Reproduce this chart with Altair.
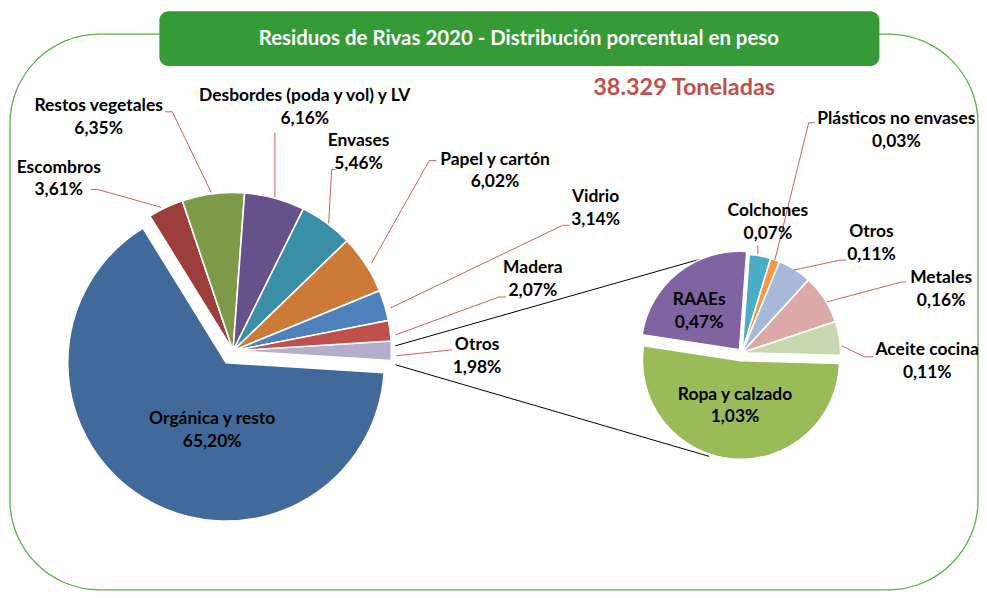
import math
import altair as alt
import pandas as pd

# ---------------- data ----------------
main_names = ["Otros", "Orgánica y resto", "Escombros", "Restos vegetales",
              "Desbordes (poda y vol) y LV", "Envases", "Papel y cartón", "Vidrio", "Madera"]
main_values = [1.98, 65.20, 3.61, 6.35, 6.16, 5.46, 6.02, 3.14, 2.07]
main_colors = ["#B4ADCB", "#416A9B", "#9C3F3C", "#7E9A48", "#66518A",
               "#3A8EA6", "#CC7A37", "#4F81BD", "#C0504D"]

sec_names = ["Ropa y calzado", "RAAEs", "Colchones", "Plásticos no envases",
             "Otros", "Metales", "Aceite cocina"]
sec_values = [1.03, 0.47, 0.07, 0.03, 0.11, 0.16, 0.11]
sec_colors = ["#9BBB59", "#8064A2", "#4BACC6", "#F79646", "#A9B9DA", "#DBA9A7", "#C8D8AE"]

title_text = "Residuos de Rivas 2020 - Distribución porcentual en peso"
total_text = "38.329 Toneladas"

# ---------------- layout (page pixel coords) ----------------
M = 8
FONT = "Lato"
MAIN_C, MAIN_R, MAIN_START = (234, 351), 159, 86.44
SEC_C, SEC_R, SEC_START = (745, 353), 99, 91.5

main_label_pos = {
    "Otros": (479, 345), "Orgánica y resto": (213, 420), "Escombros": (59, 167),
    "Restos vegetales": (99, 105), "Desbordes (poda y vol) y LV": (306, 95),
    "Envases": (360, 140), "Papel y cartón": (497, 159), "Vidrio": (598, 197),
    "Madera": (535, 268),
}
sec_label_pos = {
    "Ropa y calzado": (738, 395), "RAAEs": (702, 300), "Colchones": (771, 211),
    "Plásticos no envases": (900, 118), "Otros": (875, 232), "Metales": (945, 278),
    "Aceite cocina": (931, 350),
}
LINE_GAP = 23

leaders = [
    [(91, 189), (98, 189), (162, 207)],
    [(166, 111), (173, 111), (212, 192)],
    [(276, 132), (276, 197)],
    [(337, 169), (333, 169), (330, 223)],
    [(438, 160), (431, 160), (373, 263)],
    [(572, 225), (565, 225), (392, 308)],
    [(508, 297), (501, 297), (397, 335)],
    [(454, 350), (398, 356)],
    [(761, 245), (761, 254)],
    [(818, 122), (812, 122), (778, 260)],
    [(850, 260), (843, 260), (797, 270)],
    [(910, 282), (905, 282), (830, 302)],
    [(877, 357), (868, 357), (845, 346)],
]
connectors = [[(397, 346), (710, 257)], [(397, 365), (712, 457)]]


def pct(v):
    return f"{v:.2f}".replace(".", ",") + "%"


def segs(polys):
    rows = []
    for p in polys:
        for (a, b) in zip(p[:-1], p[1:]):
            rows.append({"x1": a[0] - M, "y1": a[1] - M, "x2": b[0] - M, "y2": b[1] - M})
    return pd.DataFrame(rows)


main_df = pd.DataFrame({"name": main_names, "value": main_values, "order": range(len(main_names))})
sec_df = pd.DataFrame({"name": sec_names, "value": sec_values, "order": range(len(sec_names))})


def pie_layer(df, names, colors, start_deg, center, r, keep, dx=0.0, dy=0.0):
    total = float(sum(df["value"]))
    s = math.radians(start_deg)
    return alt.Chart(df).transform_window(
        cum="sum(value)", sort=[alt.SortField("order")], frame=[None, 0]
    ).transform_calculate(
        cum0="datum.cum - datum.value"
    ).transform_filter(
        alt.FieldOneOfPredicate(field="name", oneOf=keep)
    ).mark_arc(outerRadius=r, stroke="white", strokeWidth=1.6).encode(
        theta=alt.Theta("cum0:Q", stack=False,
                        scale=alt.Scale(domain=[0, total], range=[s, s + 2 * math.pi])),
        theta2="cum:Q",
        color=alt.Color("name:N", scale=alt.Scale(domain=names, range=colors), legend=None),
        x=alt.value(center[0] - M + dx),
        y=alt.value(center[1] - M + dy),
    )


main_rest = [n for n in main_names if n != "Orgánica y resto"]
sec_rest = [n for n in sec_names if n not in ("Ropa y calzado", "RAAEs")]

pies = [
    pie_layer(main_df, main_names, main_colors, MAIN_START, MAIN_C, MAIN_R, main_rest),
    pie_layer(main_df, main_names, main_colors, MAIN_START, MAIN_C, MAIN_R, ["Orgánica y resto"], -7, 12),
    pie_layer(sec_df, sec_names, sec_colors, SEC_START, SEC_C, SEC_R, sec_rest),
    pie_layer(sec_df, sec_names, sec_colors, SEC_START, SEC_C, SEC_R, ["Ropa y calzado"], -1, 8),
    pie_layer(sec_df, sec_names, sec_colors, SEC_START, SEC_C, SEC_R, ["RAAEs"], -2.5, -3),
]

# label table
rows = []
for n, v in zip(main_names, main_values):
    x, y = main_label_pos[n]
    rows.append({"t": n, "x": x - M, "y": y - M})
    rows.append({"t": pct(v), "x": x - M, "y": y - M + LINE_GAP})
for n, v in zip(sec_names, sec_values):
    x, y = sec_label_pos[n]
    rows.append({"t": n, "x": x - M, "y": y - M})
    rows.append({"t": pct(v), "x": x - M, "y": y - M + LINE_GAP})
labels_df = pd.DataFrame(rows)

one = pd.DataFrame({"a": [0]})

border = alt.Chart(one).mark_rect(
    filled=False, stroke="#5DB04F", strokeWidth=1.3, cornerRadius=90
).encode(x=alt.value(10 - M), x2=alt.value(982 - M), y=alt.value(33 - M), y2=alt.value(591 - M))

title_box = alt.Chart(one).mark_rect(
    color="#369B37", cornerRadius=9
).encode(x=alt.value(160 - M), x2=alt.value(883 - M), y=alt.value(10 - M), y2=alt.value(65 - M))

title = alt.Chart(one).mark_text(
    text=title_text, font=FONT, fontWeight="bold", fontSize=20.5, color="white",
    align="center", baseline="middle"
).encode(x=alt.value(521 - M), y=alt.value(38 - M))

tons = alt.Chart(one).mark_text(
    text=total_text, font=FONT, fontWeight="bold", fontSize=23.5, color="#C0504D",
    align="center", baseline="middle"
).encode(x=alt.value(687 - M), y=alt.value(87 - M))

conn = alt.Chart(segs(connectors)).mark_rule(color="black", strokeWidth=1).encode(
    x=alt.X("x1:Q", scale=None, axis=None), y=alt.Y("y1:Q", scale=None, axis=None),
    x2="x2:Q", y2="y2:Q")

lead = alt.Chart(segs(leaders)).mark_rule(color="#D0605E", strokeWidth=1).encode(
    x=alt.X("x1:Q", scale=None, axis=None), y=alt.Y("y1:Q", scale=None, axis=None),
    x2="x2:Q", y2="y2:Q")

labels = alt.Chart(labels_df).mark_text(
    font=FONT, fontWeight="bold", fontSize=17.5, color="black", align="center", baseline="middle"
).encode(x=alt.X("x:Q", scale=None, axis=None), y=alt.Y("y:Q", scale=None, axis=None), text="t:N")

chart = alt.layer(
    border, title_box, title, tons, conn, *pies, lead, labels
).resolve_scale(
    theta="independent", color="independent"
).properties(
    width=975, height=585, padding=0, autosize="none", background="white"
).configure_view(stroke=None)

chart.save("out.html", embed_options={"renderer": "svg", "actions": False})
